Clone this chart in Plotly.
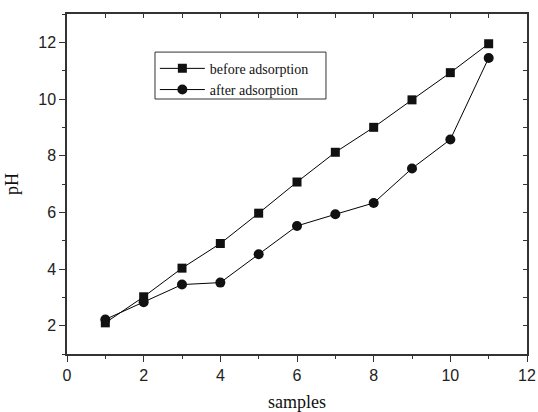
import plotly.graph_objects as go

samples = [1, 2, 3, 4, 5, 6, 7, 8, 9, 10, 11]
before_ph = [2.10, 3.02, 4.03, 4.90, 5.97, 7.07, 8.12, 9.00, 9.97, 10.93, 11.95]
after_ph = [2.22, 2.83, 3.45, 3.52, 4.52, 5.52, 5.93, 6.33, 7.55, 8.57, 11.45]
x_ticks = [0, 2, 4, 6, 8, 10, 12]
y_ticks = [2, 4, 6, 8, 10, 12]

fig = go.Figure()
fig.add_trace(go.Scatter(x=samples, y=before_ph, mode="lines+markers", name="before adsorption",
                         line=dict(color="black", width=1),
                         marker=dict(symbol="square", size=9, color="#111")))
fig.add_trace(go.Scatter(x=samples, y=after_ph, mode="lines+markers", name="after adsorption",
                         line=dict(color="black", width=1),
                         marker=dict(symbol="circle", size=10, color="#111")))

axis_common = dict(showgrid=False, zeroline=False, showline=True, linecolor="#333", linewidth=1.5,
                   ticks="outside", tickcolor="#333", ticklen=6, tickwidth=1, automargin=False,
                   tickfont=dict(family="Liberation Sans, Arial", size=16, color="#222"))

serif = "Liberation Serif, Times New Roman"

fig.update_layout(
    width=538, height=412,
    margin=dict(l=67, r=11, t=14, b=58),
    plot_bgcolor="white", paper_bgcolor="white",
    showlegend=True,
    legend=dict(x=0.191, y=0.886, xanchor="left", yanchor="top",
                borderwidth=0, bgcolor="rgba(0,0,0,0)",
                font=dict(family=serif, size=14, color="#111"),
                tracegroupgap=0, itemwidth=45),
    shapes=[dict(type="rect", xref="paper", yref="paper", x0=0.1913, x1=0.563, y0=0.75, y1=0.888,
                 line=dict(color="#333", width=1), fillcolor="rgba(0,0,0,0)", layer="above")],
    xaxis=dict(range=[0, 12], tickvals=x_ticks, title=dict(text="samples", standoff=12,
               font=dict(family=serif, size=18, color="#111")),
               minor=dict(dtick=1, ticks="outside", ticklen=3, tickcolor="#333"),
               **axis_common),
    yaxis=dict(range=[1, 13], tickvals=y_ticks, title=dict(text="pH", standoff=15,
               font=dict(family=serif, size=18, color="#111")),
               minor=dict(dtick=1, tick0=1, ticks="outside", ticklen=3, tickcolor="#333"),
               **axis_common),
    xaxis2=dict(range=[0, 12], overlaying="x", side="top", showgrid=False, zeroline=False,
                showline=True, linecolor="#333", linewidth=1.5, ticks="inside", ticklen=4,
                tickcolor="#333", tickvals=list(range(0, 13)), showticklabels=False, automargin=False),
    yaxis2=dict(range=[1, 13], overlaying="y", side="right", showgrid=False, zeroline=False,
                showline=True, linecolor="#333", linewidth=1.5, ticks="inside", ticklen=4,
                tickcolor="#333", tickvals=list(range(1, 14)), showticklabels=False, automargin=False),
)
fig.add_trace(go.Scatter(x=[None], y=[None], xaxis="x2", yaxis="y2", showlegend=False, hoverinfo="skip"))

fig.write_html("out.html")
